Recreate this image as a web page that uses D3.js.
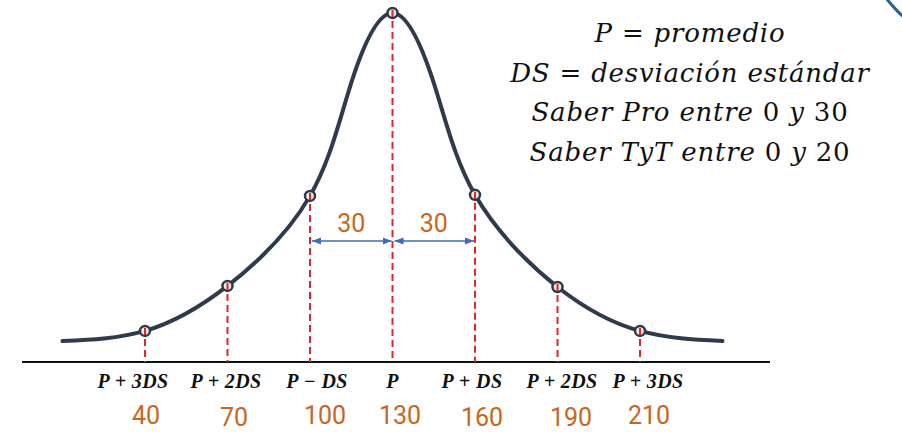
<!DOCTYPE html>
<html>
<head>
<meta charset="UTF-8">
<title>Curva normal</title>
<script src="https://cdn.jsdelivr.net/npm/d3@7"></script>
<style>
  body { margin: 0; background: #fff; }
</style>
</head>
<body>
<script>
// data: positions in DS units around the mean, relative heights of the curve
var curveX = [-4, -3, -2, -1, -0.5, 0, 0.5, 1, 2, 3, 4];
var curveH = [0.06, 0.089, 0.218, 0.476, 0.80, 1, 0.80, 0.479, 0.215, 0.089, 0.06];

var markX = [-3, -2, -1, 0, 1, 2, 3];
var symLabels = ['P + 3DS', 'P + 2DS', 'P \u2212 DS', 'P', 'P + DS', 'P + 2DS', 'P + 3DS'];
var scoreLabels = ['40', '70', '100', '130', '160', '190', '210'];
var gapLabels = ['30', '30'];
var noteLines = ['P = promedio', 'DS = desviación estándar', 'Saber Pro entre 0 y 30', 'Saber TyT entre 0 y 20'];

var W = 902, H = 432;
var baseY = 362;

var x = d3.scaleLinear().domain([-4, 4]).range([62.5, 722.5]);
var y = d3.scaleLinear().domain([0, 1]).range([baseY, 13]);

var svg = d3.select('body').append('svg')
	.attr('width', W)
	.attr('height', H);

var defs = svg.append('defs');
defs.append('marker')
	.attr('id', 'arr')
	.attr('viewBox', '0 0 10 10')
	.attr('refX', 10).attr('refY', 5)
	.attr('markerWidth', 9).attr('markerHeight', 9)
	.attr('markerUnits', 'userSpaceOnUse')
	.attr('orient', 'auto-start-reverse')
  .append('path')
	.attr('d', 'M0,1 L10,5 L0,9 Z')
	.attr('fill', '#3f6db5');

// decoration in the top-right corner
svg.append('circle')
	.attr('cx', 1000).attr('cy', -90).attr('r', 144)
	.attr('fill', 'none')
	.attr('stroke', '#2c5f95')
	.attr('stroke-width', 3);

// baseline
svg.append('line')
	.attr('x1', 22).attr('x2', 770)
	.attr('y1', baseY).attr('y2', baseY)
	.attr('stroke', '#111')
	.attr('stroke-width', 2);

// the bell curve
var line = d3.line()
	.x(function(d, i) { return x(d); })
	.y(function(d, i) { return y(curveH[i]); })
	.curve(d3.curveNatural);

svg.append('path')
	.datum(curveX)
	.attr('d', line)
	.attr('fill', 'none')
	.attr('stroke', '#2e3b4d')
	.attr('stroke-width', 4)
	.attr('stroke-linecap', 'round');

function hAt(v) { return curveH[curveX.indexOf(v)]; }

// markers
svg.selectAll('circle.mark')
	.data(markX)
	.enter().append('circle')
	.attr('class', 'mark')
	.attr('cx', function(d) { return x(d); })
	.attr('cy', function(d) { return y(hAt(d)); })
	.attr('r', 5)
	.attr('fill', '#f6e7dc')
	.attr('stroke', '#2e3b4d')
	.attr('stroke-width', 2.5);

// dashed drops
svg.selectAll('line.drop')
	.data(markX)
	.enter().append('line')
	.attr('class', 'drop')
	.attr('x1', function(d) { return x(d); })
	.attr('x2', function(d) { return x(d); })
	.attr('y1', function(d) { return y(hAt(d)) - 3; })
	.attr('y2', baseY)
	.attr('stroke', '#e0262a')
	.attr('stroke-width', 2)
	.attr('stroke-dasharray', '7,4');

// double arrows: -1 -> 0 and 0 -> 1
var arrowY = 241;
[[-1, 0], [0, 1]].forEach(function(p) {
	svg.append('line')
		.attr('x1', x(p[0]) + 2).attr('x2', x(p[1]) - 1)
		.attr('y1', arrowY).attr('y2', arrowY)
		.attr('stroke', '#3f6db5')
		.attr('stroke-width', 1.3)
		.attr('marker-start', 'url(#arr)')
		.attr('marker-end', 'url(#arr)');
});

svg.selectAll('text.gap')
	.data(gapLabels)
	.enter().append('text')
	.attr('class', 'gap')
	.attr('x', function(d, i) { return x(i - 0.5); })
	.attr('y', 232)
	.attr('text-anchor', 'middle')
	.attr('font-family', 'Roboto, sans-serif')
	.attr('font-size', 25)
	.attr('fill', '#c8651e')
	.text(function(d) { return d; });

// symbolic labels under the axis
var symNudge = [-12, -1.5, 7, 0, -3, 4.5, 8];
svg.selectAll('text.sym')
	.data(symLabels)
	.enter().append('text')
	.attr('class', 'sym')
	.attr('x', function(d, i) { return x(markX[i]) + symNudge[i]; })
	.attr('y', 388)
	.attr('text-anchor', 'middle')
	.attr('font-family', '"Liberation Serif", serif')
	.attr('font-style', 'italic')
	.attr('font-weight', 'bold')
	.attr('font-size', 20)
	.attr('letter-spacing', 0.4)
	.attr('fill', '#111')
	.attr('xml:space', 'preserve')
	.text(function(d) { return d; });

// score values
var scoreNudge = [1, 6.5, 15, 7.5, 7, 13.5, 9];
var scoreDrop = [0, 1.5, 0, 0, 1.5, 1.5, 0];
svg.selectAll('text.score')
	.data(scoreLabels)
	.enter().append('text')
	.attr('class', 'score')
	.attr('x', function(d, i) { return x(markX[i]) + scoreNudge[i]; })
	.attr('y', function(d, i) { return 424 + scoreDrop[i]; })
	.attr('text-anchor', 'middle')
	.attr('font-family', 'Roboto, sans-serif')
	.attr('font-size', 25)
	.attr('fill', '#c8651e')
	.text(function(d) { return d; });

// note block, math-style: letters italic, digits and '=' upright
var note = svg.append('g');
noteLines.forEach(function(s, i) {
	var t = note.append('text')
		.attr('x', 690)
		.attr('y', 42 + i * 39.5)
		.attr('text-anchor', 'middle')
		.attr('font-family', '"DejaVu Serif", serif')
		.attr('font-size', 26)
		.attr('letter-spacing', 0.8)
		.attr('fill', '#111')
		.attr('xml:space', 'preserve');
	s.split(/([0-9]+|=)/).forEach(function(part) {
		if (!part) return;
		t.append('tspan')
			.attr('font-style', /^([0-9]+|=)$/.test(part) ? 'normal' : 'italic')
			.text(part);
	});
});
</script>
</body>
</html>
